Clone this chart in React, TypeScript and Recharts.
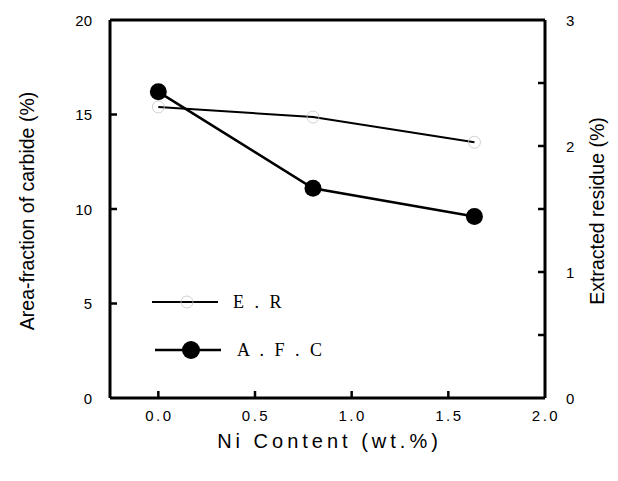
import { LineChart, Line, XAxis, YAxis, Legend, ReferenceLine } from 'recharts'

// Ni content (wt.%)
const niContent = [0, 0.8, 1.635]
// area-fraction of carbide (%), left axis
const afc = [16.2, 11.1, 9.6]
// extracted residue (%), right axis
const er = [2.31, 2.23, 2.03]

const xTicks = [0, 0.5, 1.0, 1.5, 2.0]
const leftTicks = [0, 5, 10, 15, 20]
const rightTicks = [0, 0.5, 1, 1.5, 2, 2.5, 3]

const legendItems = [
  { key: 'er', label: 'E . R' },
  { key: 'afc', label: 'A . F . C' },
]

const data = niContent.map((x, i) => ({ x, afc: afc[i], er: er[i] }))

const SANS = '"Liberation Sans", Arial, sans-serif'
const SERIF = '"Liberation Serif", "Times New Roman", serif'

const LeftTick = ({ x, y, payload }: any) => (
  <g>
    {payload.value > 0 && payload.value < 20 && (
      <line x1={x} x2={x + 7} y1={y} y2={y} stroke="#000" strokeWidth={2.5} />
    )}
    <text x={x - 18} y={y} textAnchor="end" dominantBaseline="central" fontSize={15} fontFamily={SANS} fill="#000">
      {payload.value}
    </text>
  </g>
)

const RightTick = ({ x, y, payload }: any) => (
  <g>
    {payload.value > 0 && payload.value < 3 && (
      <line x1={x} x2={x - 7} y1={y} y2={y} stroke="#000" strokeWidth={2.5} />
    )}
    {Number.isInteger(payload.value) && (
      <text x={x + 21} y={y} textAnchor="start" dominantBaseline="central" fontSize={15} fontFamily={SANS} fill="#000">
        {payload.value}
      </text>
    )}
  </g>
)

const BottomTick = ({ x, y, payload }: any) => (
  <g>
    {payload.value < 2 && <line x1={x} x2={x} y1={y} y2={y - 7} stroke="#000" strokeWidth={2.5} />}
    <text x={x + 1} y={y + 17} textAnchor="middle" dominantBaseline="central" fontSize={15} letterSpacing={2.5} fontFamily={SANS} fill="#000">
      {payload.value.toFixed(1)}
    </text>
  </g>
)

const ErDot = ({ cx, cy }: any) => (
  <circle cx={cx} cy={cy} r={6} fill="none" stroke="#c4c4c4" strokeWidth={0.8} />
)

const LegendBox = () => (
  <svg width={200} height={90}>
    {legendItems.map((it, i) => {
      const y = 22 + i * 48
      const x0 = it.key === 'er' ? 12 : 15
      return (
        <g key={it.key}>
          <line x1={x0} x2={x0 + 66} y1={y} y2={y} stroke="#000" strokeWidth={it.key === 'er' ? 2 : 2.5} />
          {it.key === 'er' ? (
            <circle cx={47} cy={y} r={6} fill="none" stroke="#c4c4c4" strokeWidth={0.8} />
          ) : (
            <circle cx={51} cy={y} r={9} fill="#000" />
          )}
          <text
            x={it.key === 'er' ? 93 : 97}
            y={y}
            dominantBaseline="central"
            fontSize={18}
            letterSpacing={3}
            fontFamily={SERIF}
            fill="#000"
          >
            {it.label}
          </text>
        </g>
      )
    })}
  </svg>
)

export default function App() {
  return (
    <div style={{ position: 'absolute', left: 0, top: 0, width: 618, height: 481, background: '#fff' }}>
      <LineChart width={618} height={481} data={data} margin={{ top: 20, right: 0, bottom: 0, left: 0 }}>
        <XAxis
          dataKey="x"
          type="number"
          domain={[-0.25, 2.0]}
          ticks={xTicks}
          height={83}
          tickSize={0}
          tickMargin={0}
          tickLine={false}
          axisLine={{ stroke: '#000', strokeWidth: 3 }}
          tick={<BottomTick />}
          interval={0}
          label={{
            content: ({ viewBox }: any) => (
              <text
                x={viewBox.x + viewBox.width / 2 + 2}
                y={viewBox.y + 43}
                textAnchor="middle"
                dominantBaseline="central"
                fontSize={20}
                letterSpacing={4}
                fontFamily={SANS}
                fill="#000"
              >
                Ni  Content (wt.%)
              </text>
            ),
          }}
        />
        <YAxis
          yAxisId="left"
          orientation="left"
          domain={[0, 20]}
          ticks={leftTicks}
          width={110}
          tickSize={0}
          tickMargin={0}
          tickLine={false}
          axisLine={{ stroke: '#000', strokeWidth: 3 }}
          tick={<LeftTick />}
          interval={0}
          label={{
            content: ({ viewBox }: any) => {
              const cx = viewBox.x + 27
              const cy = viewBox.y + viewBox.height / 2 + 2
              return (
                <text
                  transform={`translate(${cx},${cy}) rotate(-90)`}
                  textAnchor="middle"
                  dominantBaseline="central"
                  fontSize={19.5}
                  fontFamily={SANS}
                  fill="#000"
                >
                  Area-fraction of carbide (%)
                </text>
              )
            },
          }}
        />
        <YAxis
          yAxisId="right"
          orientation="right"
          domain={[0, 3]}
          ticks={rightTicks}
          width={73}
          tickSize={0}
          tickMargin={0}
          tickLine={false}
          axisLine={{ stroke: '#000', strokeWidth: 3 }}
          tick={<RightTick />}
          interval={0}
          label={{
            content: ({ viewBox }: any) => {
              const cx = viewBox.x + 52
              const cy = viewBox.y + viewBox.height / 2 + 2
              return (
                <text
                  transform={`translate(${cx},${cy}) rotate(-90)`}
                  textAnchor="middle"
                  dominantBaseline="central"
                  fontSize={19.5}
                  fontFamily={SANS}
                  fill="#000"
                >
                  Extracted residue (%)
                </text>
              )
            },
          }}
        />
        <ReferenceLine yAxisId="left" y={20} stroke="#000" strokeWidth={3} />
        <Line
          yAxisId="right"
          dataKey="er"
          type="linear"
          stroke="#000"
          strokeWidth={2}
          dot={<ErDot />}
          activeDot={false}
          isAnimationActive={false}
        />
        <Line
          yAxisId="left"
          dataKey="afc"
          type="linear"
          stroke="#000"
          strokeWidth={2.5}
          dot={{ r: 8.5, fill: '#000', stroke: 'none' }}
          activeDot={false}
          isAnimationActive={false}
        />
        <Legend
          layout="horizontal"
          verticalAlign="middle"
          align="center"
          wrapperStyle={{ left: 140, top: 280, width: 200, height: 90 }}
          content={<LegendBox />}
        />
      </LineChart>
    </div>
  )
}
